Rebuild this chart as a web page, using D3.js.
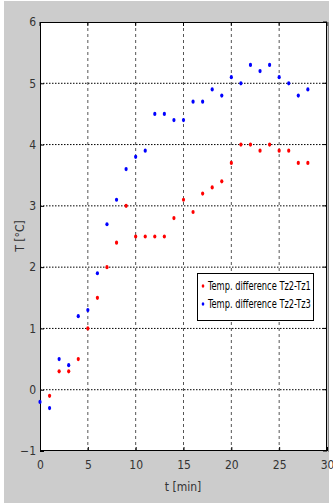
<!DOCTYPE html>
<html><head><meta charset="utf-8">
<script src="https://cdn.jsdelivr.net/npm/d3@7"></script>
<style>
html,body{margin:0;padding:0;background:#fff;}
svg{display:block;}
text{font-family:"Liberation Sans Narrow","Arial Narrow","DejaVu Sans Condensed","Liberation Sans",sans-serif;}
</style></head><body>
<svg id="c" width="333" height="503"></svg>
<script>
const times = [0,1,2,3,4,5,6,7,8,9,10,11,12,13,14,15,16,17,18,19,20,21,22,23,24,25,26,27,28];
const tz1Times = [1,2,3,4,5,6,7,8,9,10,11,12,13,14,15,16,17,18,19,20,21,22,23,24,25,26,27,28];
const tz1Values = [-0.1,0.3,0.3,0.5,1.0,1.5,2.0,2.4,3.0,2.5,2.5,2.5,2.5,2.8,3.1,2.9,3.2,3.3,3.4,3.7,4.0,4.0,3.9,4.0,3.9,3.9,3.7,3.7];
const tz3Values = [-0.2,-0.3,0.5,0.4,1.2,1.3,1.9,2.7,3.1,3.6,3.8,3.9,4.5,4.5,4.4,4.4,4.7,4.7,4.9,4.8,5.1,5.0,5.3,5.2,5.3,5.1,5.0,4.8,4.9];
const xTicks = [0,5,10,15,20,25,30];
const yTicks = [-1,0,1,2,3,4,5,6];
const seriesNames = ["Temp. difference Tz2-Tz1","Temp. difference Tz2-Tz3"];
const seriesColors = ["#ff0000","#0000ff"];

const svg = d3.select("#c");
svg.append("rect").attr("x",4).attr("y",1).attr("width",325).attr("height",502).attr("fill","#cccccc");

const L=40, R=327, T=22, B=451;
const x = d3.scaleLinear().domain([0,30]).range([L,R]);
const y = d3.scaleLinear().domain([-1,6]).range([B,T]);

svg.append("rect").attr("x",L).attr("y",T).attr("width",R-L).attr("height",B-T).attr("fill","#fff");

// grid
svg.append("g").selectAll("line").data(xTicks.slice(1,-1)).join("line")
  .attr("x1",d=>x(d)).attr("x2",d=>x(d)).attr("y1",T).attr("y2",B)
  .attr("stroke","#555").attr("stroke-width",1).attr("stroke-dasharray","3,3");
svg.append("g").selectAll("line").data(yTicks.slice(1,-1)).join("line")
  .attr("x1",L).attr("x2",R).attr("y1",d=>y(d)).attr("y2",d=>y(d))
  .attr("stroke","#000").attr("stroke-width",1).attr("stroke-dasharray","1.5,1.5");

// axes
const fmt = d3.format("d");
const xa = svg.append("g").attr("transform",`translate(0,${B})`)
  .call(d3.axisBottom(x).tickValues(xTicks).tickFormat(fmt).tickSize(-4).tickPadding(9));
const ya = svg.append("g").attr("transform",`translate(${L},0)`)
  .call(d3.axisLeft(y).tickValues(yTicks).tickFormat(fmt).tickSize(-4).tickPadding(4));
[xa,ya].forEach(a=>{
  a.select(".domain").remove();
  a.selectAll("line").attr("stroke","#000");
  a.selectAll("text").attr("font-size",12).attr("fill","#333")
   .style("font-family",'"Liberation Sans Narrow","Arial Narrow","DejaVu Sans Condensed",sans-serif');
});
// top/right ticks
svg.append("g").selectAll("line").data(xTicks).join("line")
  .attr("x1",d=>x(d)).attr("x2",d=>x(d)).attr("y1",T).attr("y2",T+4).attr("stroke","#000");
svg.append("g").selectAll("line").data(yTicks).join("line")
  .attr("x1",R).attr("x2",R-4).attr("y1",d=>y(d)).attr("y2",d=>y(d)).attr("stroke","#000");

svg.append("rect").attr("x",L+0.5).attr("y",T+0.5).attr("width",R-L-1).attr("height",B-T-1)
  .attr("fill","none").attr("stroke","#000").attr("stroke-width",1);
svg.append("line").attr("x1",R+1.5).attr("x2",R+1.5).attr("y1",T).attr("y2",B+1).attr("stroke","#888").attr("stroke-width",1);

// points
svg.append("g").selectAll("ellipse").data(tz1Times.map((t,i)=>[t,tz1Values[i]])).join("ellipse")
  .attr("cx",d=>x(d[0])).attr("cy",d=>y(d[1])).attr("rx",1.6).attr("ry",2.1).attr("fill",seriesColors[0]);
svg.append("g").selectAll("ellipse").data(times.map((t,i)=>[t,tz3Values[i]])).join("ellipse")
  .attr("cx",d=>x(d[0])).attr("cy",d=>y(d[1])).attr("rx",1.6).attr("ry",2.1).attr("fill",seriesColors[1]);

// labels
svg.append("text").attr("x",183).attr("y",491).attr("text-anchor","middle").attr("font-size",12).attr("fill","#333").text("t [min]");
svg.append("text").attr("transform","translate(24,236) rotate(-90)").attr("text-anchor","middle").attr("font-size",12).attr("fill","#333").text("T  [°C]");

// legend
const lg = svg.append("g");
lg.append("rect").attr("x",197.5).attr("y",273.5).attr("width",116).attr("height",47).attr("fill","#fff").attr("stroke","#000");
seriesNames.forEach((n,i)=>{
  const yy = 290 + i*18;
  lg.append("ellipse").attr("cx",203).attr("cy",yy-4).attr("rx",1.3).attr("ry",1.7).attr("fill",seriesColors[i]);
  const g = lg.append("g").attr("transform",`translate(208,${yy})`);
  const t = g.append("text").attr("x",0).attr("y",0).attr("font-size",12).attr("fill","#000").text(n);
  const w = t.node().getComputedTextLength();
  const s = Math.min(1, 103 / w);
  t.attr("transform",`scale(${s},1)`);
});
</script></body></html>
